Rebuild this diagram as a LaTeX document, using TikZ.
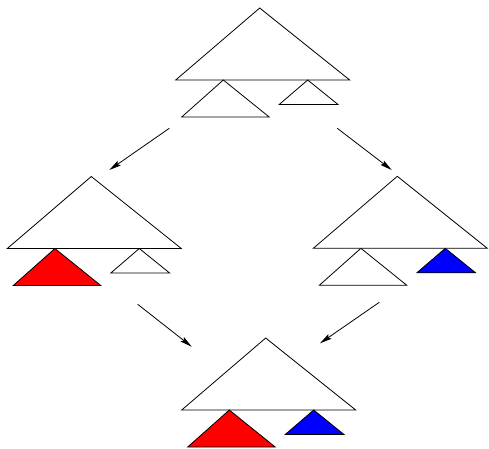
\documentclass[tikz,border=0pt]{standalone}
\usepackage{tikz}
\usetikzlibrary{arrows.meta}
\definecolor{hot}{RGB}{255,0,0}
\definecolor{cold}{RGB}{0,0,255}
\tikzset{
  >={Stealth[length=12pt,width=5.5pt,inset=2pt]},
  edge/.style={line width=0.8pt,line join=miter},
  step arrow/.style={->,line width=0.8pt},
  % pictograms
  pics/tree/.style 2 args={code={
    \draw[edge,fill=white] (0,0) -- (84,-72) -- (174,0) -- cycle;
    \draw[edge,fill=#1] (6,37) -- (47.6,0) -- (93.5,37) -- cycle;
    \draw[edge,fill=#2] (103.5,24.5) -- (132,0) -- (162.3,24.5) -- cycle;
  }},
}
\begin{document}
\begin{tikzpicture}[x=1pt,y=-1pt]
  \useasboundingbox (0,0) rectangle (489,448);
  \pic (top) at (175.7,80) {tree={white}{white}};
  \pic (left) at (7.3,248.5) {tree={hot}{white}};
  \pic (right) at (313.3,248.3) {tree={white}{cold}};
  \pic (bottom) at (181.7,410) {tree={hot}{cold}};
  % steps
  \coordinate (t1) at (169.3,128.3);
  \coordinate (l1) at (109.3,170);
  \coordinate (t2) at (337.3,128.3);
  \coordinate (r1) at (391.7,170);
  \coordinate (l2) at (137.7,304.3);
  \coordinate (b1) at (191.7,346.7);
  \coordinate (r2) at (379.3,302.3);
  \coordinate (b2) at (320,343.3);
  \draw[step arrow] (t1) -- (l1);
  \draw[step arrow] (t2) -- (r1);
  \draw[step arrow] (l2) -- (b1);
  \draw[step arrow] (r2) -- (b2);
\end{tikzpicture}
\end{document}
